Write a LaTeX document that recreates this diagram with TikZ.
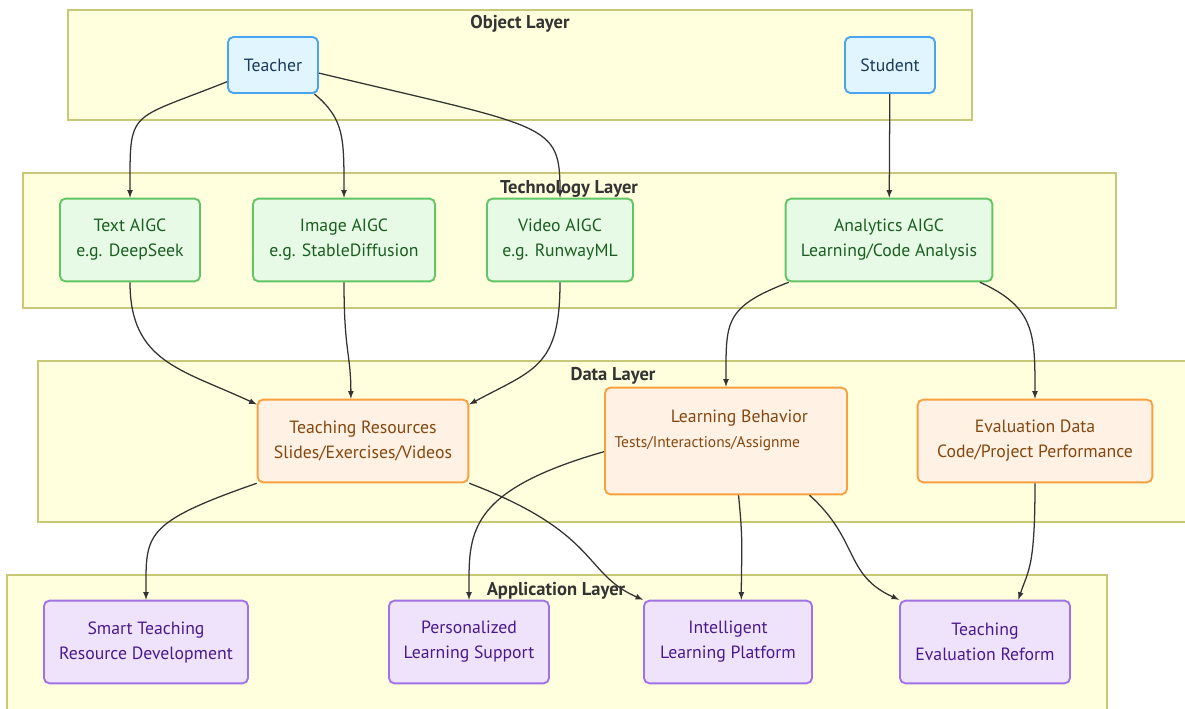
\documentclass[tikz,border=0pt]{standalone}
\usepackage{fontspec}
\setmainfont{PT Sans}
\usepackage{xcolor}
\usepackage{tikz}
\usetikzlibrary{arrows,backgrounds}
\tikzset{>=latex}

\definecolor{layerfill}{HTML}{FFFFDE}
\definecolor{layerline}{HTML}{C8C878}
\definecolor{edgecol}{HTML}{333333}
\definecolor{objfill}{HTML}{E1F5FE}
\definecolor{objline}{HTML}{4AA3EF}
\definecolor{objtext}{HTML}{1A3A5C}
\definecolor{techfill}{HTML}{E6FAE6}
\definecolor{techline}{HTML}{62C462}
\definecolor{techtext}{HTML}{1B5E20}
\definecolor{datafill}{HTML}{FFF1E4}
\definecolor{dataline}{HTML}{F8A040}
\definecolor{datatext}{HTML}{85470F}
\definecolor{appfill}{HTML}{EFE3FC}
\definecolor{appline}{HTML}{9F72E6}
\definecolor{apptext}{HTML}{4A1A8C}

\tikzset{
  layer/.style={fill=layerfill, draw=layerline, line width=1.2pt},
  ltitle/.style={font=\bfseries\fontsize{13.9}{16}\selectfont, text=edgecol, inner sep=0pt},
  box/.style={rounded corners=4pt, line width=1.4pt, align=center, inner sep=0pt,
    font=\fontsize{13.3}{18.75}\selectfont},
  objbox/.style={box, fill=objfill, draw=objline, text=objtext},
  techbox/.style={box, fill=techfill, draw=techline, text=techtext},
  databox/.style={box, fill=datafill, draw=dataline, text=datatext},
  appbox/.style={box, fill=appfill, draw=appline, text=apptext},
  flow/.style={->, draw=edgecol, line width=0.95pt},
}

\begin{document}
\begin{tikzpicture}[x=0.75pt,y=-0.75pt]
  \useasboundingbox (0,0) rectangle (1185,709);
  \clip (0,0) rectangle (1185,709);

  % object layer
  \node[objbox, minimum width=67.5pt, minimum height=42pt] at (273,65) (teacher) {Teacher};
  \node[objbox, minimum width=67.5pt, minimum height=42pt] at (890,65) (student) {Student};

  % technology layer
  \node[techbox, minimum width=105pt, minimum height=62pt] at (130,240) (textaigc)
    {Text AIGC\\e.g. DeepSeek};
  \node[techbox, minimum width=136.5pt, minimum height=62pt] at (344,240) (imageaigc)
    {Image AIGC\\e.g. StableDiffusion};
  \node[techbox, minimum width=109.5pt, minimum height=62pt] at (560,240) (videoaigc)
    {Video AIGC\\e.g. RunwayML};
  \node[techbox, minimum width=155pt, minimum height=62pt] at (889,240) (analytics)
    {Analytics AIGC\\Learning/Code Analysis};

  % data layer
  \node[databox, minimum width=181.5pt, minimum height=80pt] at (726,441) (behavior)
    {\hspace*{20pt}Learning Behavior\\
     \hspace*{-28pt}{\fontsize{11.6}{18.75}\selectfont Tests/Interactions/Assignme}\\\mbox{}};
  \node[databox, minimum width=158pt, minimum height=62pt] at (363,441) (resources)
    {Teaching Resources\\Slides/Exercises/Videos};
  \node[databox, minimum width=176pt, minimum height=62pt] at (1035,441) (evaldata)
    {Evaluation Data\\Code/Project Performance};

  % application layer
  \node[appbox, minimum width=153pt, minimum height=62pt] at (146,642) (smart)
    {Smart Teaching\\Resource Development};
  \node[appbox, minimum width=120pt, minimum height=62pt] at (469,642) (personal)
    {Personalized\\Learning Support};
  \node[appbox, minimum width=126pt, minimum height=62pt] at (728,642) (platform)
    {Intelligent\\Learning Platform};
  \node[appbox, minimum width=127.5pt, minimum height=62pt] at (985,642) (reform)
    {Teaching\\Evaluation Reform};

  \begin{scope}[on background layer]
    \draw[layer] (68,10) rectangle (972,120);
    \draw[layer] (23,173) rectangle (1116,308);
    \draw[layer] (38,361) rectangle (1190,522);
    \draw[layer] (7,575) rectangle (1107,715);
    \node[ltitle] at (520,24) (objtitle) {Object Layer};
    \node[ltitle] at (569,189) (techtitle) {Technology Layer};
    \node[ltitle] at (613,376) (datatitle) {Data Layer};
    \node[ltitle] at (556,591) (apptitle) {Application Layer};
  \end{scope}

  % teachers and students to the tools
  \draw[flow] (teacher.200) .. controls +(-100,40) and +(0,-90) .. (textaigc.north);
  \draw[flow] (teacher.-35) .. controls +(30,25) and +(0,-60) .. (imageaigc.north);
  \draw[flow] (teacher.-10) .. controls +(230,55) and +(0,-75) .. (videoaigc.north);
  \draw[flow] (student) -- (analytics);

  % tools to data
  \draw[flow] (textaigc.south) .. controls +(0,80) and +(-75,-35) .. (resources.161);
  \draw[flow] (imageaigc.south) .. controls +(0,70) and +(0,-45) .. (resources.106);
  \draw[flow] (videoaigc.south) .. controls +(0,85) and +(65,-35) .. (resources.19);
  \draw[flow] ([xshift=3pt]analytics.south west) .. controls +(-65,25) and +(0,-65) .. (behavior.north);
  \draw[flow] ([xshift=-10pt]analytics.south east) .. controls +(55,25) and +(0,-65) .. (evaldata.north);

  % data to applications
  \draw[flow] (resources.south west) .. controls +(-115,40) and +(0,-65) .. (smart.north);
  \draw[flow] (resources.south east) .. controls +(131,50) and +(-60,-26) .. (platform.north west);
  \draw[flow] ([yshift=-8pt]behavior.west) .. controls +(-140,40) and +(0,-65) .. (personal.north);
  \draw[flow] (behavior.-77) .. controls +(5,50) and +(0,-50) .. ([xshift=10pt]platform.north);
  \draw[flow] (behavior.-33) .. controls +(50,45) and +(-55,-25) .. (reform.north west);
  \draw[flow] (evaldata.south) .. controls +(0,85) and +(10,-30) .. ([xshift=25pt]reform.north);
\end{tikzpicture}
\end{document}
